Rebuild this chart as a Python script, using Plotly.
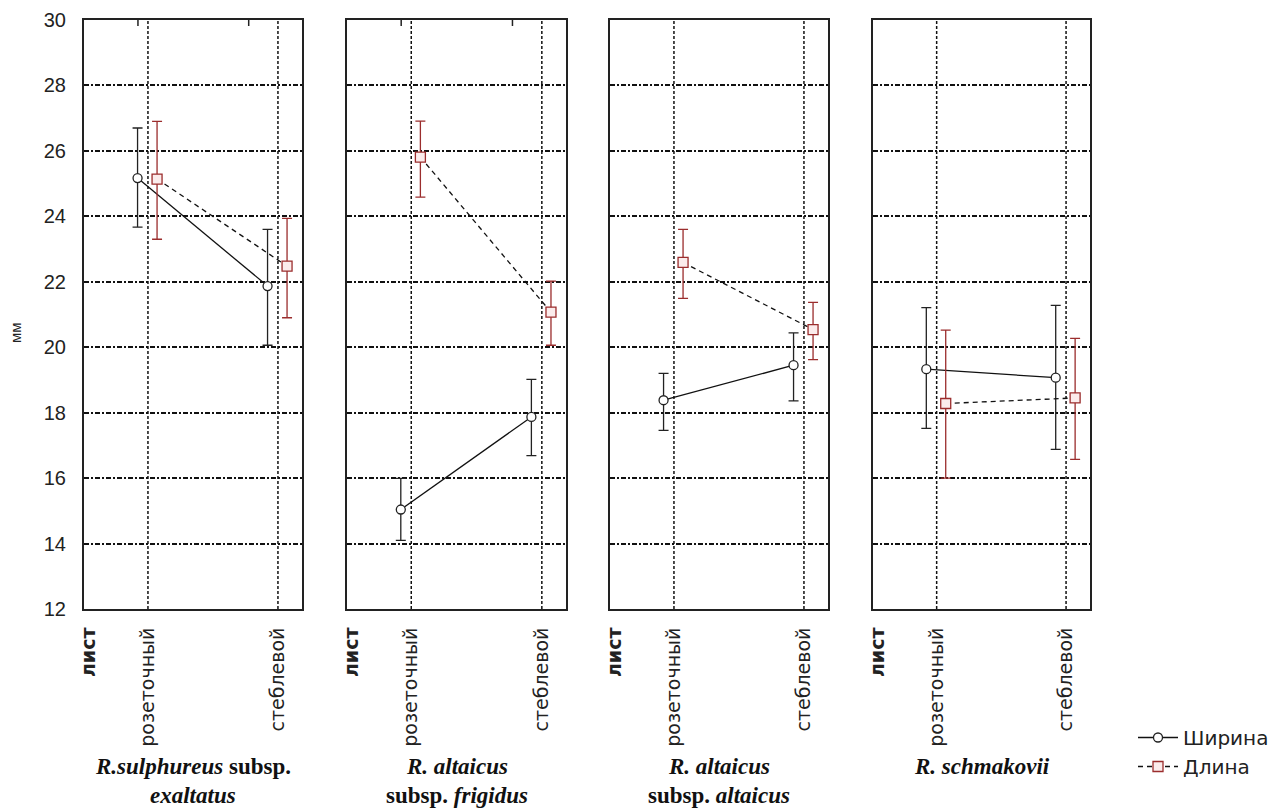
import plotly.graph_objects as go

# ---- data ----
categories = ["розеточный", "стеблевой"]
factor_label = "лист"
panel_line1 = ["<i>R.sulphureus</i> subsp.", "<i>R. altaicus</i>", "<i>R. altaicus</i>", "<i>R. schmakovii</i>"]
panel_line2 = ["<i>exaltatus</i>", "subsp. <i>frigidus</i>", "subsp. <i>altaicus</i>", ""]
series_names = ["Ширина", "Длина"]

width_mean = [[25.17, 21.87], [15.04, 17.87], [18.38, 19.45], [19.33, 19.07]]
width_lo = [[23.67, 20.06], [14.10, 16.69], [17.46, 18.36], [17.52, 16.88]]
width_hi = [[26.70, 23.60], [15.99, 19.02], [19.20, 20.44], [21.21, 21.28]]

length_mean = [[25.14, 22.48], [25.81, 21.07], [22.59, 20.54], [18.28, 18.45]]
length_lo = [[23.30, 20.90], [24.59, 20.06], [21.49, 19.62], [16.00, 16.57]]
length_hi = [[26.90, 23.94], [26.91, 22.02], [23.60, 21.37], [20.52, 20.27]]

y_ticks = [12, 14, 16, 18, 20, 22, 24, 26, 28, 30]

# ---- layout geometry ----
W, H = 1279, 809
L, R, T, B = 84, 189, 20, 200
plot_w = W - L - R
plot_h = H - T - B
panel_px = [(84, 302), (347, 566), (610, 828), (873, 1090)]
domains = [[(a - L) / plot_w, (b - L) / plot_w] for a, b in panel_px]
x_range = [0.508, 2.185]
cat_pos = [1, 2]
off_w, off_l = -0.08, 0.07

red = "#9b2d2d"
dark = "#222222"

fig = go.Figure()

for i in range(4):
    xa = "x" if i == 0 else f"x{i+1}"
    ya = "y" if i == 0 else f"y{i+1}"
    wm = width_mean[i]
    lm = length_mean[i]
    fig.add_trace(go.Scatter(
        x=[c + off_w for c in cat_pos], y=wm, xaxis=xa, yaxis=ya,
        mode="lines+markers", name=series_names[0], showlegend=(i == 0),
        line=dict(color="#111111", width=1.3),
        marker=dict(symbol="circle", size=9, color="white", line=dict(color="#222222", width=1.3)),
        error_y=dict(type="data", symmetric=False,
                     array=[h - m for h, m in zip(width_hi[i], wm)],
                     arrayminus=[m - l for m, l in zip(wm, width_lo[i])],
                     color="#222222", thickness=1.3, width=5),
    ))
    fig.add_trace(go.Scatter(
        x=[c + off_l for c in cat_pos], y=lm, xaxis=xa, yaxis=ya,
        mode="lines+markers", name=series_names[1], showlegend=(i == 0),
        line=dict(color="#111111", width=1.3, dash="5px,4px"),
        marker=dict(symbol="square", size=10, color="#fbecec", line=dict(color=red, width=1.3)),
        error_y=dict(type="data", symmetric=False,
                     array=[h - m for h, m in zip(length_hi[i], lm)],
                     arrayminus=[m - l for m, l in zip(lm, length_lo[i])],
                     color=red, thickness=1.3, width=5),
    ))

axis_font = dict(family="Liberation Sans, Arial, sans-serif", size=20, color="#222222")
xtick_font = dict(family="DejaVu Sans, sans-serif", size=19, color="#222222")
layout = dict(
    width=W, height=H, autosize=False,
    margin=dict(l=L, r=R, t=T, b=B, pad=0, autoexpand=False),
    paper_bgcolor="white", plot_bgcolor="white",
    showlegend=True,
    legend=dict(xref="container", yref="container", x=1133 / W, y=1 - 718 / H,
                xanchor="left", yanchor="top",
                font=dict(family="DejaVu Sans, sans-serif", size=20, color="#222222"),
                bgcolor="rgba(0,0,0,0)", itemwidth=40, tracegroupgap=0),
)

for i in range(4):
    xk = "xaxis" if i == 0 else f"xaxis{i+1}"
    yk = "yaxis" if i == 0 else f"yaxis{i+1}"
    xa = "x" if i == 0 else f"x{i+1}"
    ya = "y" if i == 0 else f"y{i+1}"
    layout[xk] = dict(
        domain=domains[i], range=x_range, anchor=ya,
        tickmode="array", tickvals=[x_range[0] + 0.04] + cat_pos,
        ticktext=[f"<b>{factor_label}</b>"] + categories,
        tickangle=-90, ticks="", ticklabelstandoff=9,
        tickfont=xtick_font, showgrid=False, zeroline=False,
        showline=True, mirror=True, linecolor=dark, linewidth=2,
    )
    layout[yk] = dict(
        domain=[0, 1], range=[12, 30], anchor=xa,
        tickmode="array", tickvals=y_ticks, ticks="",
        showticklabels=(i == 0), tickfont=axis_font, ticklabelstandoff=12,
        showgrid=True, gridcolor="#111111", gridwidth=1.5, griddash="5px,2px,2px,2px",
        zeroline=False, showline=True, mirror=True, linecolor=dark, linewidth=2,
    )

fig.update_layout(**layout)

shapes = []
for i in range(4):
    xa = "x" if i == 0 else f"x{i+1}"
    ya = "y" if i == 0 else f"y{i+1}"
    for c in cat_pos:
        shapes.append(dict(type="line", xref=xa, yref=ya, x0=c, x1=c, y0=12, y1=30,
                           line=dict(color="#111111", width=1.5, dash="3px,2px"), layer="below"))
    if i < 2:
        for tx in [1 - 0.077, 2 - 0.225]:
            shapes.append(dict(type="line", xref=xa, yref=f"{ya} domain", x0=tx, x1=tx,
                               y0=1, y1=1 - 6 / plot_h, line=dict(color=dark, width=1.5)))
fig.update_layout(shapes=shapes)

annotations = []
title_font = dict(family="Liberation Serif, Times New Roman, serif", size=23, color="#111111")
for i in range(4):
    cx = (domains[i][0] + domains[i][1]) / 2
    annotations.append(dict(xref="paper", yref="paper", x=cx, y=(T + plot_h - 766) / plot_h,
                            text=f"<b>{panel_line1[i]}</b>", showarrow=False,
                            xanchor="center", yanchor="middle", font=title_font))
    if panel_line2[i]:
        annotations.append(dict(xref="paper", yref="paper", x=cx, y=(T + plot_h - 795) / plot_h,
                                text=f"<b>{panel_line2[i]}</b>", showarrow=False,
                                xanchor="center", yanchor="middle", font=title_font))
annotations.append(dict(xref="paper", yref="paper", x=(15 - L) / plot_w, y=(T + plot_h - 333) / plot_h,
                        text="мм", textangle=-90, showarrow=False, xanchor="center", yanchor="middle",
                        font=dict(family="Liberation Sans, Arial, sans-serif", size=15, color="#222222")))
fig.update_layout(annotations=annotations)

fig.write_html("out.html")
